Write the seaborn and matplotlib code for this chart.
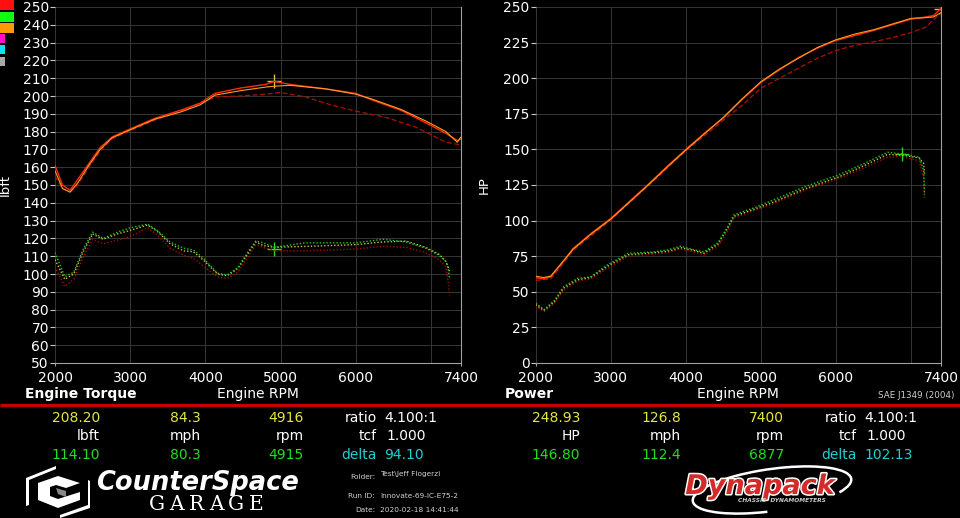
import numpy as np
import pandas as pd
import matplotlib.pyplot as plt
from matplotlib.patches import Rectangle, Polygon, Arc
import matplotlib.patheffects as pe
import seaborn as sns

# ---- data ----
# engine torque, upper group (lbft)
tq_rpm_red = [2000, 2100, 2200, 2300, 2450, 2600, 2760, 3000, 3330, 3670, 3930, 4130, 4470, 4800, 4916, 5130, 5600, 6000, 6200, 6600, 6930, 7200, 7350, 7400]
tq_red = [161, 150, 147, 153, 162, 171, 177, 181.5, 187.5, 192, 196, 201.5, 204.5, 206.5, 208.2, 206.5, 204, 201.5, 198, 192, 185, 179, 175, 176]
tq_orange = [158, 148, 146, 151, 161, 170, 176.5, 181, 187, 191, 195, 200.5, 203, 205, 205.5, 206, 204, 201, 198.5, 192.5, 186, 180, 174, 177]
tq_rpm_dash = [2000, 2100, 2200, 2300, 2450, 2600, 2760, 3000, 3330, 3670, 3930, 4130, 4470, 4800, 5000, 5330, 5670, 6000, 6400, 6800, 7200, 7400]
tq_dash = [155, 148, 146, 150, 160, 169, 176, 180.5, 186.5, 191.5, 195.5, 199.5, 200, 201, 202, 199.5, 195, 191.5, 188, 182.5, 174, 172.5]

# engine torque, lower group (lbft)
tq_rpm_low = [2000, 2130, 2250, 2370, 2500, 2640, 2830, 3000, 3230, 3360, 3530, 3710, 3840, 3970, 4160, 4290, 4430, 4560, 4670, 4770, 4915, 5330, 6000, 6360, 6670, 6930, 7110, 7200, 7230, 7250]
tq_green = [112, 98.5, 101, 113.5, 123.5, 120, 123.5, 126, 128, 124.5, 118, 114.5, 113.5, 109, 100.5, 99.5, 103.5, 112, 118.5, 117.5, 115, 117.5, 117.5, 119.5, 118, 114.5, 110.5, 107, 103, 97]
tq_yellow = [108, 97, 100, 112, 122.5, 119.5, 122.5, 124.5, 127.5, 124, 117, 113, 112.5, 108, 100, 99, 103, 111, 118, 116, 115, 115.5, 116.5, 118, 118.5, 115, 111, 107, 104, 101]
tq_redlow = [104, 93, 97, 109, 119.5, 117, 119, 121, 126, 122, 114.5, 110.5, 109, 104.5, 98.5, 97.5, 101, 109, 116.5, 115, 113, 113, 114, 115.5, 115, 112, 108, 104, 95, 88]

# power, upper group (HP)
hp_rpm_up = [2000, 2100, 2200, 2350, 2500, 2750, 3000, 3250, 3500, 3750, 4000, 4250, 4500, 4750, 5000, 5250, 5500, 5750, 6000, 6250, 6500, 6750, 7000, 7200, 7300, 7400]
hp_red = [60, 59, 60.5, 70, 80.5, 91.5, 101.5, 113.5, 125.5, 138, 150, 161.5, 172, 185, 197, 206, 214.5, 221, 226.5, 230, 233.5, 237.5, 241.5, 243, 244, 249]
hp_orange = [61, 60, 61, 70.5, 80, 91, 101, 113, 125, 137.5, 149.5, 161, 172.5, 185.5, 197.5, 206.5, 214, 221.5, 227, 231, 234, 238, 242, 242.5, 243, 246]
hp_rpm_dash = [2000, 2200, 2500, 3000, 3500, 4000, 4500, 4750, 5000, 5250, 5500, 5750, 6000, 6250, 6500, 6750, 7000, 7200, 7300, 7400]
hp_dash = [58, 59, 79, 100.5, 124.5, 149, 170.5, 181, 193, 200, 207, 214, 219.5, 223, 225.5, 228.5, 232, 236, 241, 246]

# power, lower group (HP)
hp_rpm_low = [2000, 2110, 2250, 2370, 2560, 2730, 2960, 3230, 3570, 3760, 3930, 4110, 4240, 4430, 4550, 4640, 4910, 5170, 5570, 6030, 6330, 6690, 6880, 7110, 7170, 7180]
hp_green = [42, 37.5, 44, 53.5, 59.5, 60.5, 69, 77, 78, 79.5, 82, 79.5, 78, 84.5, 95, 104, 109, 114.5, 123.5, 132, 139, 148, 146.8, 144.5, 135, 118]
hp_yellow = [41, 37, 43, 52.5, 58.5, 60, 68, 76, 77.5, 78.5, 81, 79, 77, 83.5, 94, 103, 108, 113, 122, 130.5, 137.5, 146.5, 146, 144, 140, 133]
hp_redlow = [40, 36, 42, 51, 57.5, 59, 66.5, 75, 76.5, 77.5, 80, 78, 76, 82, 92, 102, 107, 112, 121, 129.5, 136, 144.5, 145, 142, 130, 116]

x_ticks = [2000, 3000, 4000, 5000, 6000, 7000, 7400]
x_tick_labels = ['2000', '3000', '4000', '5000', '6000', '', '7400']

legend_colors = ['#ff1010', '#10ff10', '#ff9a00', '#ff10c8', '#10e0f0', '#a8a8a8']

W, H = 960, 518
sns.set_theme(style='dark')
plt.rcParams['font.family'] = ['DejaVu Sans']

fig = plt.figure(figsize=(W / 100, H / 100), dpi=100, facecolor='black')


def box(x0, y0, x1, y1):
    return [x0 / W, 1 - y1 / H, (x1 - x0) / W, (y1 - y0) / H]


def style_axes(ax, ylo, yhi, ystep, ylabel, lab_x):
    ax.set_facecolor('black')
    ax.set_xlim(2000, 7400)
    ax.set_ylim(ylo, yhi)
    ax.set_xticks(x_ticks)
    ax.set_xticklabels(x_tick_labels)
    ax.set_yticks(np.arange(ylo, yhi + 1, ystep))
    ax.grid(True, color='#363636', lw=0.7)
    for s in ['top', 'left']:
        ax.spines[s].set_visible(False)
    for s in ['bottom', 'right']:
        ax.spines[s].set_visible(True)
        ax.spines[s].set_color('#a0a0a0')
        ax.spines[s].set_linewidth(0.8)
    ax.tick_params(axis='y', left=True, length=3.6, width=0.8, pad=0.8,
                   color='#c8c8c8', labelcolor='white', labelsize=10)
    ax.tick_params(axis='x', bottom=True, length=2.5, width=0.8, pad=3,
                   color='#a0a0a0', labelcolor='white', labelsize=10)
    for i, t in enumerate(ax.xaxis.get_major_ticks()):
        if i not in (0, len(x_ticks) - 1):
            t.tick1line.set_visible(False)
    ax.set_xlabel('')
    ax.set_ylabel(ylabel, color='white', fontsize=9.5)
    ax.yaxis.set_label_coords(lab_x, 0.5)


def curve(ax, xs, ys, color, ls='-', lw=1.0):
    sns.lineplot(x=xs, y=ys, ax=ax, color=color, linestyle=ls, lw=lw,
                 sort=False, estimator=None)


dot = (0, (1, 1.4))

# ---- torque chart ----
ax1 = fig.add_axes(box(55, 7, 461, 363))
curve(ax1, tq_rpm_dash, tq_dash, '#b01000', ls=(0, (4, 2)), lw=0.9)
curve(ax1, tq_rpm_red, tq_red, '#ff2a10', lw=1.0)
curve(ax1, tq_rpm_red, tq_orange, '#ff9a20', lw=0.8)
curve(ax1, tq_rpm_low, tq_redlow, '#a01000', ls=dot, lw=1.0)
curve(ax1, tq_rpm_low, tq_yellow, '#c8c040', ls=dot, lw=1.0)
curve(ax1, tq_rpm_low, tq_green, '#22c822', ls=dot, lw=1.0)
sns.scatterplot(x=[4916], y=[208.2], ax=ax1, marker='+', s=90, color='#d8c040', linewidth=1)
sns.scatterplot(x=[4915], y=[114.1], ax=ax1, marker='+', s=90, color='#22dd22', linewidth=1)
style_axes(ax1, 50, 250, 10, 'lbft', (12 - 55) / 406)

# ---- power chart ----
ax2 = fig.add_axes(box(535.7, 7, 941, 363))
curve(ax2, hp_rpm_dash, hp_dash, '#b01000', ls=(0, (4, 2)), lw=0.9)
curve(ax2, hp_rpm_up, hp_red, '#ff2a10', lw=1.0)
curve(ax2, hp_rpm_up, hp_orange, '#ff9a20', lw=0.8)
curve(ax2, hp_rpm_low, hp_redlow, '#a01000', ls=dot, lw=1.0)
curve(ax2, hp_rpm_low, hp_yellow, '#c8c040', ls=dot, lw=1.0)
curve(ax2, hp_rpm_low, hp_green, '#22c822', ls=dot, lw=1.0)
sns.scatterplot(x=[6877], y=[146.8], ax=ax2, marker='+', s=90, color='#22dd22', linewidth=1)
sns.scatterplot(x=[7400], y=[248.93], ax=ax2, marker='+', s=90, color='#d8c040', linewidth=1)
style_axes(ax2, 0, 250, 25, 'HP', (491 - 535.7) / 405.3)

# ---- overlay in pixel coordinates ----
ov = fig.add_axes([0, 0, 1, 1])
ov.set_xlim(0, W)
ov.set_ylim(H, 0)
ov.axis('off')
ov.patch.set_alpha(0)

# run colour swatches
sw = [(0, 0, 14, 10), (0, 12, 14, 22), (0, 23, 14, 33), (0, 34, 5, 43), (0, 45, 5, 54), (0, 57, 5, 66)]
for (x0, y0, x1, y1), c in zip(sw, legend_colors):
    ov.add_patch(Rectangle((x0, y0), x1 - x0, y1 - y0, color=c, lw=0))

# axis captions and separator
fs = 10
ov.text(25, 394, 'Engine Torque', color='white', fontsize=fs, fontweight='bold', va='center')
ov.text(258, 394, 'Engine RPM', color='white', fontsize=fs, ha='center', va='center')
ov.text(505, 394, 'Power', color='white', fontsize=fs, fontweight='bold', va='center')
ov.text(738, 394, 'Engine RPM', color='white', fontsize=fs, ha='center', va='center')
ov.text(955, 396, 'SAE J1349 (2004)', color='#d0d0d0', fontsize=6.3, ha='right', va='center')
ov.plot([0, W], [405, 405], color='#c80000', lw=2.4, solid_capstyle='butt')

# readout blocks
yel, grn, cyn = '#e6e63c', '#22dd22', '#20d0d0'
readouts = [
    (0, ['208.20', '84.3', '4916'], ['lbft', 'mph', 'rpm'], ['114.10', '80.3', '4915'], '94.10'),
    (480, ['248.93', '126.8', '7400'], ['HP', 'mph', 'rpm'], ['146.80', '112.4', '6877'], '102.13'),
]
cols = [100, 201, 304]
for dx, top, units, bot, delta in readouts:
    for cx, a, u, b in zip(cols, top, units, bot):
        ov.text(cx + dx, 418, a, color=yel, fontsize=fs, ha='right', va='center')
        ov.text(cx + dx, 436, u, color='white', fontsize=fs, ha='right', va='center')
        ov.text(cx + dx, 455, b, color=grn, fontsize=fs, ha='right', va='center')
    ov.text(377 + dx, 418, 'ratio', color='white', fontsize=fs, ha='right', va='center')
    ov.text(384 + dx, 418, '4.100:1', color='white', fontsize=fs, va='center')
    ov.text(377 + dx, 436, 'tcf', color='white', fontsize=fs, ha='right', va='center')
    ov.text(386 + dx, 436, '1.000', color='white', fontsize=fs, va='center')
    ov.text(377 + dx, 455, 'delta', color=cyn, fontsize=fs, ha='right', va='center')
    ov.text(384 + dx, 455, delta, color=cyn, fontsize=fs, va='center')

# run info
info = [('Folder:', 'Test\\Jeff Flogerzi', 477), ('Run ID:', 'Innovate-69-IC-E75-2', 496), ('Date:', '2020-02-18 14:41:44', 510)]
for lab, val, y in info:
    ov.text(375, y, lab, color='#d0d0d0', fontsize=5.3, ha='right', va='center')
    ov.text(380, y - (3 if lab == 'Folder:' else 0), val, color='#d0d0d0', fontsize=5.3, va='center')

# CounterSpace Garage logo
ov.add_patch(Polygon([[26, 478], [56, 466], [56, 469], [29, 480], [29, 505], [26, 506]], color='white', lw=0))
ov.add_patch(Polygon([[88, 480], [90, 481], [90, 508], [60, 518], [60, 515], [88, 505]], color='white', lw=0))
ov.add_patch(Polygon([[38, 483], [58, 476], [80, 483], [66, 488], [56, 485], [50, 487], [50, 496], [58, 499], [80, 492], [80, 500], [58, 508], [38, 500]],
                     color='white', lw=0))
ov.add_patch(Polygon([[56, 488], [66, 491], [66, 497], [58, 494]], color='#888888', lw=0))
ov.text(96, 483, 'CounterSpace', color='white', fontsize=18.5, fontweight='bold', style='italic', va='center')
for i, ch in enumerate('GARAGE'):
    ov.text(157 + i * 19.8, 504, ch, color='white', fontsize=14.5, family='DejaVu Serif', ha='center', va='center')

# Dynapack logo
ov.add_patch(Arc((772, 490), 160, 42, angle=-8, theta1=110, theta2=370, color='white', lw=1.8))
ov.text(760, 487, 'Dynapack', color='#d42a2a', fontsize=19.5, fontweight='bold', style='italic',
        ha='center', va='center', path_effects=[pe.withStroke(linewidth=2.2, foreground='white')])
ov.text(782, 501, 'CHASSIS  DYNAMOMETERS', color='#cccccc', fontsize=4.2, fontweight='bold', style='italic',
        ha='center', va='center')

fig.savefig('out.png', dpi=100, facecolor='black')
